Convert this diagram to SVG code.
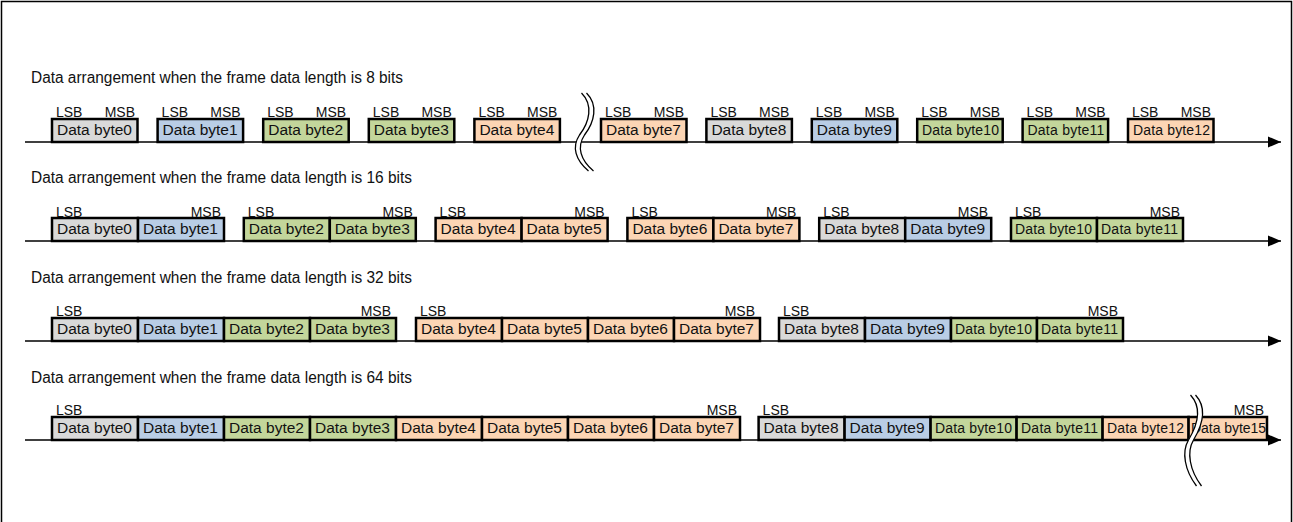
<svg xmlns="http://www.w3.org/2000/svg" width="1293" height="522" viewBox="0 0 1293 522">
<style>
text{font-family:"Liberation Sans",Arial,sans-serif;fill:#111}
.t{font-size:16px}
.lb{font-size:14px}
.bt{font-size:15.5px}
.sm{font-size:14px}
.e{text-anchor:end}
.b{stroke:#000;stroke-width:2.5}
.gy{fill:#d9d9d9}.bl{fill:#b9cde5}.gr{fill:#c3d69b}.pc{fill:#fcd5b4}
.ax{stroke:#000;stroke-width:1.5;fill:none}
.brw{stroke:#fff;stroke-width:5;fill:none}
.brk{stroke:#000;stroke-width:1.3;fill:none}
</style>
<defs>
<marker id="arr" markerWidth="14" markerHeight="12" refX="13" refY="6" orient="auto" markerUnits="userSpaceOnUse">
<path d="M0,0.5 L13,6 L0,11.5 Z" fill="#000"/>
</marker>
</defs>
<rect width="1293" height="522" fill="#fff"/>
<path d="M1.5,530 V1.5 H1291.5 V530" fill="none" stroke="#000" stroke-width="1.5"/>

<text class="t" x="31" y="83" textLength="372" lengthAdjust="spacingAndGlyphs">Data arrangement when the frame data length is 8 bits</text>
<text class="t" x="31" y="183" textLength="381" lengthAdjust="spacingAndGlyphs">Data arrangement when the frame data length is 16 bits</text>
<text class="t" x="31" y="283" textLength="381" lengthAdjust="spacingAndGlyphs">Data arrangement when the frame data length is 32 bits</text>
<text class="t" x="31" y="383" textLength="381" lengthAdjust="spacingAndGlyphs">Data arrangement when the frame data length is 64 bits</text>

<g id="connectors">
<line class="ax" x1="25" y1="142" x2="1281" y2="142" marker-end="url(#arr)"/>
<line class="ax" x1="25" y1="241" x2="1281" y2="241" marker-end="url(#arr)"/>
<line class="ax" x1="25" y1="341" x2="1281" y2="341" marker-end="url(#arr)"/>
<line class="ax" x1="25" y1="440" x2="1281" y2="440" marker-end="url(#arr)"/>
</g>

<g id="r1">
<g id="r1b0"><rect class="b gy" x="52" y="119" width="85.5" height="23"/><text class="bt" x="57" y="135">Data byte0</text><text class="lb" x="56" y="117">LSB</text><text class="lb e" x="135" y="117">MSB</text></g>
<g id="r1b1"><rect class="b bl" x="157.6" y="119" width="85.5" height="23"/><text class="bt" x="162.6" y="135">Data byte1</text><text class="lb" x="161.6" y="117">LSB</text><text class="lb e" x="240.6" y="117">MSB</text></g>
<g id="r1b2"><rect class="b gr" x="263.2" y="119" width="85.5" height="23"/><text class="bt" x="268.2" y="135">Data byte2</text><text class="lb" x="267.2" y="117">LSB</text><text class="lb e" x="346.2" y="117">MSB</text></g>
<g id="r1b3"><rect class="b gr" x="368.8" y="119" width="85.5" height="23"/><text class="bt" x="373.8" y="135">Data byte3</text><text class="lb" x="372.8" y="117">LSB</text><text class="lb e" x="451.8" y="117">MSB</text></g>
<g id="r1b4"><rect class="b pc" x="474.4" y="119" width="85.5" height="23"/><text class="bt" x="479.4" y="135">Data byte4</text><text class="lb" x="478.4" y="117">LSB</text><text class="lb e" x="557.4" y="117">MSB</text></g>
<g id="r1b7"><rect class="b pc" x="601" y="119" width="85.5" height="23"/><text class="bt" x="606" y="135">Data byte7</text><text class="lb" x="605" y="117">LSB</text><text class="lb e" x="684" y="117">MSB</text></g>
<g id="r1b8"><rect class="b gy" x="706.4" y="119" width="85.5" height="23"/><text class="bt" x="711.4" y="135">Data byte8</text><text class="lb" x="710.4" y="117">LSB</text><text class="lb e" x="789.4" y="117">MSB</text></g>
<g id="r1b9"><rect class="b bl" x="811.8" y="119" width="85.5" height="23"/><text class="bt" x="816.8" y="135">Data byte9</text><text class="lb" x="815.8" y="117">LSB</text><text class="lb e" x="894.8" y="117">MSB</text></g>
<g id="r1b10"><rect class="b gr" x="917.2" y="119" width="85.5" height="23"/><text class="sm" x="922" y="135" textLength="77" lengthAdjust="spacing">Data byte10</text><text class="lb" x="921.2" y="117">LSB</text><text class="lb e" x="1000.2" y="117">MSB</text></g>
<g id="r1b11"><rect class="b gr" x="1022.6" y="119" width="85.5" height="23"/><text class="sm" x="1027.4" y="135" textLength="77" lengthAdjust="spacing">Data byte11</text><text class="lb" x="1026.6" y="117">LSB</text><text class="lb e" x="1105.6" y="117">MSB</text></g>
<g id="r1b12"><rect class="b pc" x="1128" y="119" width="85.5" height="23"/><text class="sm" x="1133" y="135" textLength="77" lengthAdjust="spacing">Data byte12</text><text class="lb" x="1132" y="117">LSB</text><text class="lb e" x="1211" y="117">MSB</text></g>
</g>
<g id="break1">
<path class="brw" d="M584,93 C596,105 592,122 582,135 C574,147 578,160 591,171"/>
<path class="brk" transform="translate(-2.5,0)" d="M584,93 C596,105 592,122 582,135 C574,147 578,160 591,171"/>
<path class="brk" transform="translate(2.5,0)" d="M584,93 C596,105 592,122 582,135 C574,147 578,160 591,171"/>
</g>

<g id="r2">
<g id="r2g0"><rect class="b gy" x="52" y="218" width="86" height="23"/><rect class="b bl" x="138" y="218" width="86" height="23"/><text class="bt" x="57" y="234">Data byte0</text><text class="bt" x="143" y="234">Data byte1</text><text class="lb" x="56" y="216.5">LSB</text><text class="lb e" x="221" y="216.5">MSB</text></g>
<g id="r2g1"><rect class="b gr" x="243.8" y="218" width="86" height="23"/><rect class="b gr" x="329.8" y="218" width="86" height="23"/><text class="bt" x="248.8" y="234">Data byte2</text><text class="bt" x="334.8" y="234">Data byte3</text><text class="lb" x="247.8" y="216.5">LSB</text><text class="lb e" x="412.8" y="216.5">MSB</text></g>
<g id="r2g2"><rect class="b pc" x="435.6" y="218" width="86" height="23"/><rect class="b pc" x="521.6" y="218" width="86" height="23"/><text class="bt" x="440.6" y="234">Data byte4</text><text class="bt" x="526.6" y="234">Data byte5</text><text class="lb" x="439.6" y="216.5">LSB</text><text class="lb e" x="604.6" y="216.5">MSB</text></g>
<g id="r2g3"><rect class="b pc" x="627.4" y="218" width="86" height="23"/><rect class="b pc" x="713.4" y="218" width="86" height="23"/><text class="bt" x="632.4" y="234">Data byte6</text><text class="bt" x="718.4" y="234">Data byte7</text><text class="lb" x="631.4" y="216.5">LSB</text><text class="lb e" x="796.4" y="216.5">MSB</text></g>
<g id="r2g4"><rect class="b gy" x="819.2" y="218" width="86" height="23"/><rect class="b bl" x="905.2" y="218" width="86" height="23"/><text class="bt" x="824.2" y="234">Data byte8</text><text class="bt" x="910.2" y="234">Data byte9</text><text class="lb" x="823.2" y="216.5">LSB</text><text class="lb e" x="988.2" y="216.5">MSB</text></g>
<g id="r2g5"><rect class="b gr" x="1011" y="218" width="86" height="23"/><rect class="b gr" x="1097" y="218" width="86" height="23"/><text class="sm" x="1015" y="234" textLength="77" lengthAdjust="spacing">Data byte10</text><text class="sm" x="1101" y="234" textLength="77" lengthAdjust="spacing">Data byte11</text><text class="lb" x="1015" y="216.5">LSB</text><text class="lb e" x="1180" y="216.5">MSB</text></g>
</g>

<g id="r3">
<g id="r3g0"><rect class="b gy" x="52" y="318" width="86" height="23"/><rect class="b bl" x="138" y="318" width="86" height="23"/><rect class="b gr" x="224" y="318" width="86" height="23"/><rect class="b gr" x="310" y="318" width="86" height="23"/>
<text class="bt" x="57" y="334">Data byte0</text><text class="bt" x="143" y="334">Data byte1</text><text class="bt" x="229" y="334">Data byte2</text><text class="bt" x="315" y="334">Data byte3</text>
<text class="lb" x="56" y="315.5">LSB</text><text class="lb e" x="391" y="315.5">MSB</text></g>
<g id="r3g1"><rect class="b pc" x="416" y="318" width="86" height="23"/><rect class="b pc" x="502" y="318" width="86" height="23"/><rect class="b pc" x="588" y="318" width="86" height="23"/><rect class="b pc" x="674" y="318" width="86" height="23"/>
<text class="bt" x="421" y="334">Data byte4</text><text class="bt" x="507" y="334">Data byte5</text><text class="bt" x="593" y="334">Data byte6</text><text class="bt" x="679" y="334">Data byte7</text>
<text class="lb" x="420" y="315.5">LSB</text><text class="lb e" x="755" y="315.5">MSB</text></g>
<g id="r3g2"><rect class="b gy" x="779" y="318" width="86" height="23"/><rect class="b bl" x="865" y="318" width="86" height="23"/><rect class="b gr" x="951" y="318" width="86" height="23"/><rect class="b gr" x="1037" y="318" width="86" height="23"/>
<text class="bt" x="784" y="334">Data byte8</text><text class="bt" x="870" y="334">Data byte9</text><text class="sm" x="955" y="334" textLength="77" lengthAdjust="spacing">Data byte10</text><text class="sm" x="1041" y="334" textLength="77" lengthAdjust="spacing">Data byte11</text>
<text class="lb" x="783" y="315.5">LSB</text><text class="lb e" x="1118" y="315.5">MSB</text></g>
</g>

<g id="r4">
<g id="r4g0">
<rect class="b gy" x="52" y="417" width="86" height="23"/><rect class="b bl" x="138" y="417" width="86" height="23"/><rect class="b gr" x="224" y="417" width="86" height="23"/><rect class="b gr" x="310" y="417" width="86" height="23"/>
<rect class="b pc" x="396" y="417" width="86" height="23"/><rect class="b pc" x="482" y="417" width="86" height="23"/><rect class="b pc" x="568" y="417" width="86" height="23"/><rect class="b pc" x="654" y="417" width="86" height="23"/>
<text class="bt" x="57" y="433">Data byte0</text><text class="bt" x="143" y="433">Data byte1</text><text class="bt" x="229" y="433">Data byte2</text><text class="bt" x="315" y="433">Data byte3</text>
<text class="bt" x="401" y="433">Data byte4</text><text class="bt" x="487" y="433">Data byte5</text><text class="bt" x="573" y="433">Data byte6</text><text class="bt" x="659" y="433">Data byte7</text>
<text class="lb" x="56" y="415">LSB</text><text class="lb e" x="737" y="415">MSB</text></g>
<g id="r4g1">
<rect class="b gy" x="758.6" y="417" width="86" height="23"/><rect class="b bl" x="844.6" y="417" width="86" height="23"/><rect class="b gr" x="930.6" y="417" width="86" height="23"/><rect class="b gr" x="1016.6" y="417" width="86" height="23"/>
<rect class="b pc" x="1102.6" y="417" width="86" height="23"/><rect class="b pc" x="1188.6" y="417" width="78.4" height="23"/>
<text class="bt" x="763.6" y="433">Data byte8</text><text class="bt" x="849.6" y="433">Data byte9</text><text class="sm" x="935" y="433" textLength="77" lengthAdjust="spacing">Data byte10</text><text class="sm" x="1021" y="433" textLength="77" lengthAdjust="spacing">Data byte11</text>
<text class="sm" x="1107" y="433" textLength="77" lengthAdjust="spacing">Data byte12</text><text class="sm" x="1191" y="433" textLength="75" lengthAdjust="spacing">Data byte15</text>
<text class="lb" x="762.6" y="415">LSB</text><text class="lb e" x="1264" y="415">MSB</text></g>
</g>
<g id="break4">
<path class="brw" d="M1193,395 C1205,408 1200,425 1191,440 C1184,452 1187,470 1199,486"/>
<path class="brk" transform="translate(-2.5,0)" d="M1193,395 C1205,408 1200,425 1191,440 C1184,452 1187,470 1199,486"/>
<path class="brk" transform="translate(2.5,0)" d="M1193,395 C1205,408 1200,425 1191,440 C1184,452 1187,470 1199,486"/>
</g>
</svg>
